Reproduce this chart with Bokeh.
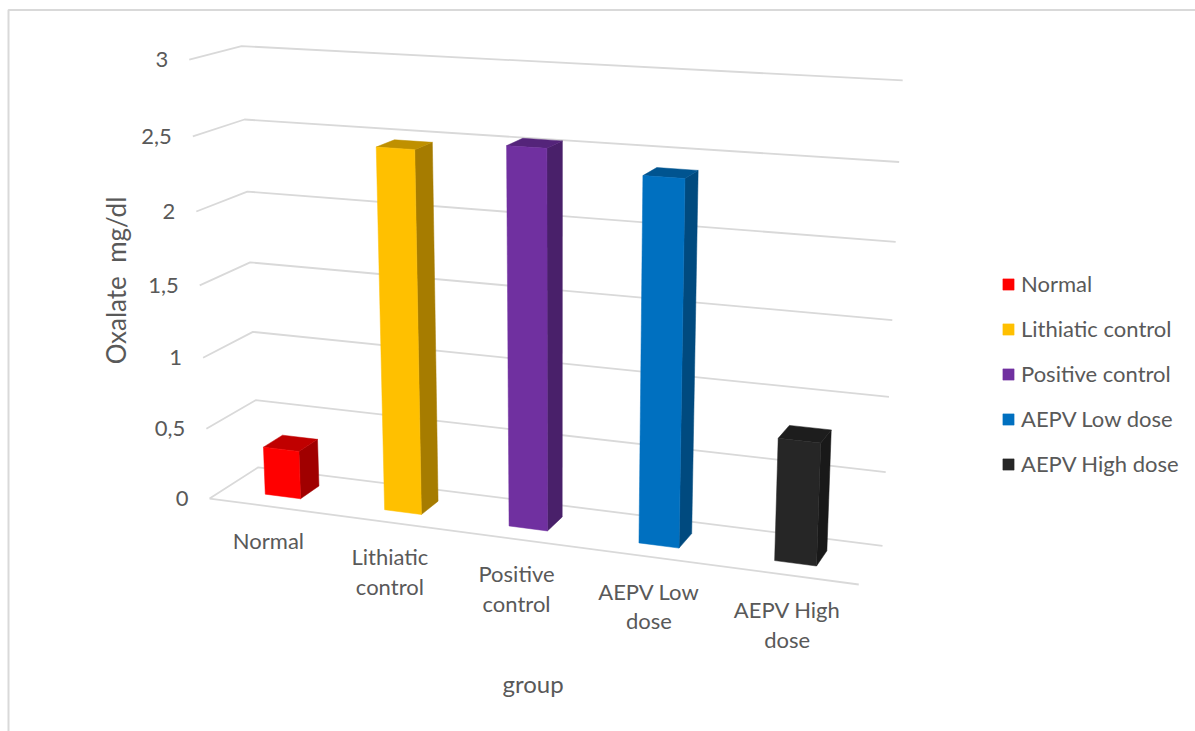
import numpy as np
from bokeh.core.properties import value
from bokeh.embed import file_html
from bokeh.models import Legend, LegendItem, Range1d
from bokeh.plotting import figure
from bokeh.resources import INLINE

# Chart data
groups = ["Normal", "Lithiatic control", "Positive control", "AEPV Low dose", "AEPV High dose"]
axis_labels = [["Normal"], ["Lithiatic", "control"], ["Positive", "control"], ["AEPV Low", "dose"], ["AEPV High", "dose"]]
oxalate = [0.34, 2.47, 2.535, 2.405, 0.81]
ticks = [0, 0.5, 1, 1.5, 2, 2.5, 3]
tick_labels = ["0", "0,5", "1", "1,5", "2", "2,5", "3"]
front_colors = ["#FF0000", "#FFC000", "#7030A0", "#0070C0", "#262626"]
side_colors = ["#A00000", "#A67C00", "#49206A", "#004A7F", "#191919"]
top_colors = ["#C00000", "#BF9000", "#54247A", "#005490", "#1D1D1D"]

FONT = "Lato"
TEXT = "#595959"
GRID = "#D9D9D9"
SIZE = "22px"
BAR_HALF = 0.15
BAR_DEPTH = (0.3, 0.7)

# Camera: pairs of (category position, value, depth) and page position, solved for a 3x4 projection
camera_points = [
    (0, 0, 0, 209, 498), (5, 0, 0, 859, 584.5), (0, 0, 1, 258, 467), (5, 0, 1, 881.5, 545),
    (0, 3, 0, 189, 59.5), (0, 3, 1, 241, 45), (5, 3, 1, 902, 80),
    (0, 1.5, 1, 249.5, 262), (5, 1.5, 1, 892, 320),
    (0.35, 0, 0.3, 264, 494), (0.65, 0, 0.3, 300.7, 498.3),
    (1.35, 0, 0.3, 383.3, 509), (1.65, 0, 0.3, 421.7, 514),
    (2.35, 0, 0.3, 508, 525), (2.65, 0, 0.3, 547, 530),
    (3.35, 0, 0.3, 637.3, 542.3), (3.65, 0, 0.3, 679.3, 547.3),
    (4.35, 0, 0.3, 772.7, 560), (4.65, 0, 0.3, 816.7, 565.3),
    (0.65, 0, 0.7, 319, 486), (1.65, 0, 0.7, 437.7, 500),
    (3.65, 0, 0.7, 691.7, 534.3), (4.65, 0, 0.7, 826.7, 550),
]
rows, rhs = [], []
for u, v, d, sx, sy in camera_points:
    rows.append([u, v, d, 1, 0, 0, 0, 0, -sx * u, -sx * v, -sx * d])
    rhs.append(sx)
    rows.append([0, 0, 0, 0, u, v, d, 1, -sy * u, -sy * v, -sy * d])
    rhs.append(sy)
solved = np.linalg.lstsq(np.array(rows, float), np.array(rhs, float), rcond=None)[0]
camera = np.append(solved, 1.0).reshape(3, 4)


def project(u, v, d):
    sx, sy, w = camera @ np.array([u, v, d, 1.0])
    return sx / w, sy / w


def polygon(corners):
    pts = [project(*c) for c in corners]
    return [q[0] for q in pts], [q[1] for q in pts]


p = figure(width=1195, height=731, x_range=Range1d(0, 1195), y_range=Range1d(731, 0),
           output_backend="svg", toolbar_location=None, min_border=0,
           outline_line_color=None, background_fill_color="white")
p.axis.visible = False
p.grid.visible = False

# Chart area border
p.line([8, 8, 1195], [731, 9.5, 9.5], line_color=GRID, line_width=2)

# Gridlines wrap from the side wall onto the back wall; the floor closes at the front
for t in ticks:
    xs, ys = polygon([(0, t, 0), (0, t, 1), (5, t, 1)])
    p.line(xs, ys, line_color=GRID, line_width=1.8)
xs, ys = polygon([(0, 0, 0), (5, 0, 0)])
p.line(xs, ys, line_color=GRID, line_width=1.8)

# Bars: side, top and front faces
legend_items = []
d0, d1 = BAR_DEPTH
for i, val in enumerate(oxalate):
    a, b = i + 0.5 - BAR_HALF, i + 0.5 + BAR_HALF
    xs, ys = polygon([(b, 0, d0), (b, 0, d1), (b, val, d1), (b, val, d0)])
    p.patch(xs, ys, fill_color=side_colors[i], line_color=side_colors[i], line_width=0.5)
    xs, ys = polygon([(a, val, d0), (b, val, d0), (b, val, d1), (a, val, d1)])
    p.patch(xs, ys, fill_color=top_colors[i], line_color=top_colors[i], line_width=0.5)
    xs, ys = polygon([(a, 0, d0), (b, 0, d0), (b, val, d0), (a, val, d0)])
    front = p.patch(xs, ys, fill_color=front_colors[i], line_color=front_colors[i], line_width=0.5)
    legend_items.append(LegendItem(label=groups[i], renderers=[front]))

# Value labels beside the side wall
for t, lab in zip(ticks, tick_labels):
    sx, sy = project(0, t, 0)
    p.text([sx], [sy], text=[lab], x_offset=-21, text_align="right", text_baseline="middle",
           text_font=value(FONT), text_font_size=SIZE, text_color=TEXT)

# Category labels below the floor's front edge
for i, lines in enumerate(axis_labels):
    sx, sy = project(i + 0.5, 0, 0)
    for k, line in enumerate(lines):
        p.text([sx], [sy], text=[line], y_offset=34.5 + 29.5 * k, text_align="center", text_baseline="middle",
               text_font=value(FONT), text_font_size=SIZE, text_color=TEXT)

# Axis titles
p.text([532.5], [682.5], text=["group"], text_align="center", text_baseline="middle",
       text_font=value(FONT), text_font_size="24px", text_color=TEXT)
p.text([115], [280], text=["Oxalate\u00a0\u00a0mg/dl"], angle=np.pi / 2, text_align="center", text_baseline="middle",
       text_font=value(FONT), text_font_size="26px", text_color=TEXT)

legend = Legend(items=legend_items, location=(1001, 731 - 477), orientation="vertical",
                background_fill_alpha=0, border_line_alpha=0, glyph_width=14, glyph_height=14,
                label_standoff=6, label_height=20, spacing=18, padding=0, margin=0,
                label_text_font=FONT, label_text_font_size=SIZE, label_text_color=TEXT)
p.add_layout(legend, "center")

open("out.html", "w").write(file_html(p, INLINE))
